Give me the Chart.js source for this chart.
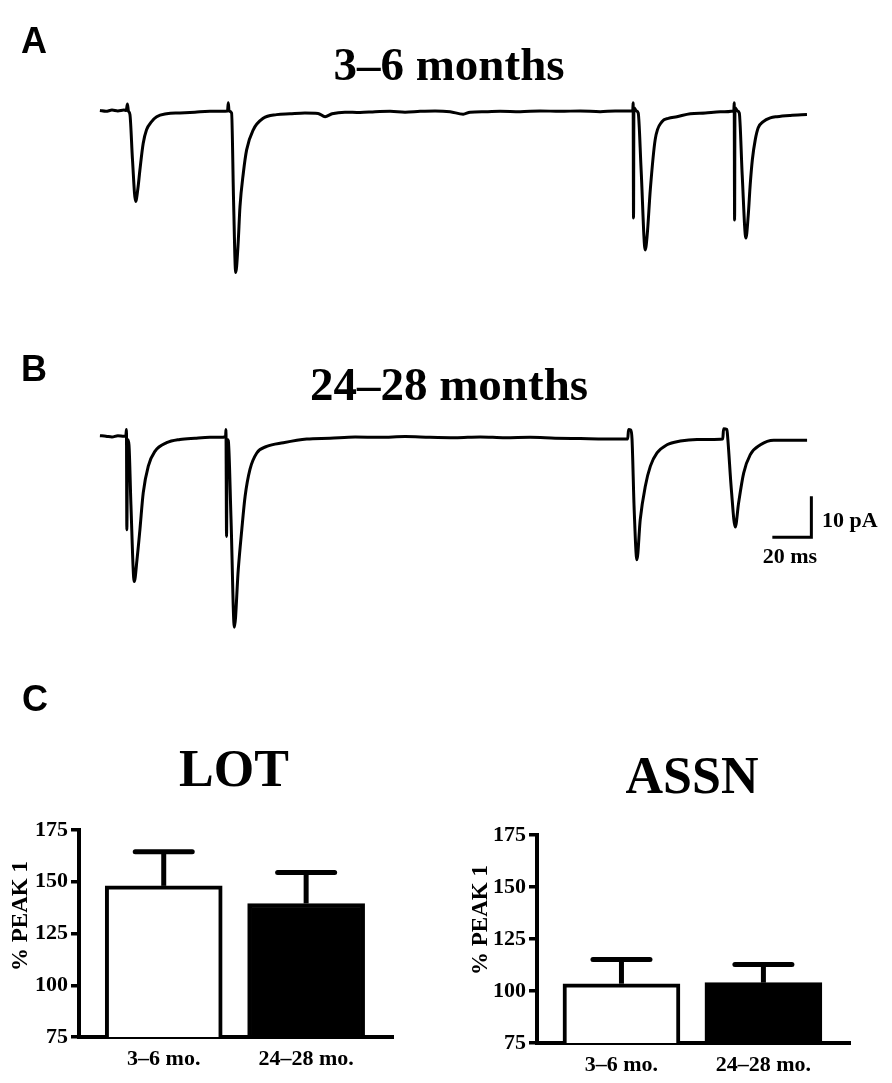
<!DOCTYPE html>
<html>
<head>
<meta charset="utf-8">
<script src="https://cdn.jsdelivr.net/npm/chart.js@4.4.1/dist/chart.umd.min.js"></script>
<style>
  html, body { margin: 0; padding: 0; background: #fff; }
  #page { position: relative; width: 892px; height: 1083px; overflow: hidden; background: #fff; }
  canvas { position: absolute; }
  #labels { position: absolute; left: 0; top: 0; }
  .panel { font-family: "Liberation Sans", Arial, sans-serif; font-weight: bold; font-size: 36px; }
  .serif { font-family: "Liberation Serif", "Times New Roman", serif; font-weight: bold; }
</style>
</head>
<body>
<div id="page">
  <canvas id="traceA" width="718" height="201" style="left:96px;top:90px"></canvas>
  <canvas id="traceB" width="722" height="226" style="left:96px;top:416px"></canvas>
  <canvas id="barLOT" width="420" height="273" style="left:0px;top:810px"></canvas>
  <canvas id="barASSN" width="420" height="268" style="left:460px;top:815px"></canvas>

  <svg id="labels" width="892" height="1083" xmlns="http://www.w3.org/2000/svg">
    <text class="panel" x="21" y="53">A</text>
    <text class="panel" x="21" y="381">B</text>
    <text class="panel" x="22" y="711">C</text>

    <text class="serif" font-size="47" x="449" y="80" text-anchor="middle">3–6 months</text>
    <text class="serif" font-size="47" x="449" y="400" text-anchor="middle">24–28 months</text>

    <text class="serif" font-size="22" x="822" y="527">10 pA</text>
    <text class="serif" font-size="22" x="790" y="563" text-anchor="middle">20 ms</text>

    <text class="serif" font-size="52" x="234" y="786" text-anchor="middle">LOT</text>
    <text class="serif" font-size="52" x="692" y="793" text-anchor="middle">ASSN</text>

    <text class="serif" font-size="23" text-anchor="middle" transform="translate(27,916) rotate(-90)">% PEAK 1</text>
    <text class="serif" font-size="23" text-anchor="middle" transform="translate(487,920) rotate(-90)">% PEAK 1</text>
  </svg>
</div>

<script>
// trace A, 3-6 months (time in ms, current in pA relative to baseline)
const traceA_t = [0, 3.1, 6.2, 9.2, 12.3, 13.5, 14.1, 14.6, 15.4, 16.7, 18.3, 19.5, 20.5, 22.2, 23.9, 26.5, 29.1, 34.2, 41.0, 48.7,
  56.4, 62.6, 65.4, 65.8, 66.2, 67.5, 68.5, 69.6, 70.8, 71.8, 73.5, 75.2, 78.6, 83.7, 90.6, 97.4, 105.1, 111.8, 115.4, 119.0,
  125.6, 133.3, 141.0, 148.7, 156.4, 164.1, 171.8, 179.5, 186.2, 189.7, 197.4, 205.1, 215.4, 225.6, 235.9, 246.2, 256.4, 264.1, 273.1, 273.3,
  273.5, 273.7, 274.9, 275.9, 277.4, 279.5, 280.5, 282.1, 284.6, 288.1, 291.3, 295.7, 302.6, 310.3, 318.0, 324.9, 325.1, 325.3, 325.5, 326.7,
  327.7, 329.2, 331.1, 332.3, 333.3, 334.4, 335.9, 337.4, 340.0, 343.6, 347.0, 353.8, 362.4];
const traceA_pA = [0, -0.2, 0.1, -0.1, 0.1, 0, 1.6, -0.1, -1.0, -12.0, -22.2, -18.9, -14.5, -8.0, -4.7, -2.7, -1.5, -0.8, -0.6, -0.4,
  -0.2, -0.2, -0.1, 1.9, -0.1, -0.6, -21.8, -39.5, -32.8, -23.4, -15.3, -9.6, -4.7, -1.9, -1.0, -0.8, -0.6, -0.7, -1.5, -0.8,
  -0.4, -0.5, -0.3, -0.2, -0.4, -0.2, -0.1, -0.3, -0.9, -0.4, -0.3, -0.2, -0.3, -0.1, -0.2, -0.1, -0.3, -0.1, -0.1, 1.9,
  -26.2, 0.7, -0.1, -0.6, -14.5, -34.0, -30.4, -19.3, -7.1, -2.7, -1.9, -1.5, -0.8, -0.6, -0.3, -0.1, 1.9, -26.7, 0.7, -0.1,
  -0.6, -15.7, -31.1, -25.5, -18.1, -12.0, -7.1, -4.2, -2.7, -1.8, -1.5, -1.2, -1.0];

// trace B, 24-28 months
const traceB_t = [0, 3.1, 6.2, 9.2, 12.3, 13.3, 13.6, 13.8, 14.2, 14.9, 15.9, 17.6, 19.0, 20.5, 22.2, 24.8, 28.2, 34.2, 41.0, 48.7,
  56.4, 61.5, 64.4, 64.6, 64.9, 65.2, 65.8, 67.2, 68.9, 70.9, 72.7, 74.4, 76.9, 80.4, 85.5, 94.0, 106.0, 117.9, 130.8, 143.6,
  156.4, 169.2, 182.1, 194.9, 207.7, 220.5, 233.3, 246.2, 259.0, 270.5, 270.9, 272.1, 272.7, 273.8, 275.2, 276.9, 279.5, 282.1, 285.5, 290.6,
  297.4, 306.0, 312.8, 319.2, 319.6, 321.3, 321.8, 323.6, 325.6, 327.3, 329.9, 333.3, 338.5, 345.3, 353.8, 362.4];
const traceB_pA = [0.2, 0.1, -0.1, 0.2, 0.1, 0.2, 1.7, -22.7, -0.7, -2.0, -16.6, -35.3, -30.0, -22.7, -13.7, -7.2, -3.6, -1.5, -0.7, -0.4,
  -0.2, -0.2, 0, 1.7, -24.3, -0.7, -1.0, -20.2, -46.4, -32.4, -22.7, -14.6, -8.0, -4.0, -2.4, -1.5, -0.6, -0.4, -0.1, -0.2,
  0, -0.2, -0.3, -0.1, -0.3, -0.2, -0.4, -0.5, -0.6, -0.6, 1.7, 1.6, -0.7, -17.8, -30.0, -20.2, -12.1, -7.2, -4.0, -2.0,
  -1.1, -0.7, -0.7, -0.6, 1.9, 1.7, -0.7, -12.9, -22.0, -16.2, -8.9, -4.4, -2.0, -0.9, -0.9, -0.9];

// scale bar: 20 ms by 10 pA
const scaleBar_t = [344.6, 364.6, 364.6];
const scaleBar_pA = [-24.5, -24.5, -14.5];

// panel C
const groups = ['3–6 mo.', '24–28 mo.'];
const lotMean = [148, 139.5];
const lotSem = [16.5, 15];
const assnMean = [103.5, 104];
const assnSem = [11.7, 8.7];
const barFill = ['#ffffff', '#000000'];

const serif = '"Liberation Serif", "Times New Roman", serif';

function pts(xs, ys) {
  return xs.map((x, i) => ({ x: x, y: ys[i] }));
}

function traceChart(id, datasets, xMax, yMin) {
  return new Chart(document.getElementById(id), {
    type: 'line',
    data: { datasets: datasets },
    options: {
      responsive: false,
      animation: false,
      events: [],
      layout: { padding: 0 },
      plugins: { legend: { display: false }, tooltip: { enabled: false } },
      scales: {
        x: { type: 'linear', display: false, min: -2, max: xMax },
        y: { display: false, min: yMin, max: 5 }
      }
    }
  });
}

function line(data, mono) {
  return {
    data: data,
    borderColor: '#000',
    borderWidth: 3,
    pointRadius: 0,
    fill: false,
    clip: false,
    borderJoinStyle: 'round',
    cubicInterpolationMode: mono ? 'monotone' : 'default',
    tension: 0
  };
}

traceChart('traceA', [line(pts(traceA_t, traceA_pA), true)], 366, -44);
traceChart('traceB', [
  line(pts(traceB_t, traceB_pA), true),
  Object.assign(line(pts(scaleBar_t, scaleBar_pA), false), { borderJoinStyle: 'miter', borderWidth: 3 })
], 368, -50);

// error bars drawn above each bar, mean -> mean + sem
function errorBars(means, sems) {
  return {
    id: 'errorBars',
    afterDatasetsDraw(chart) {
      const ctx = chart.ctx;
      const xs = chart.scales.x, ys = chart.scales.y;
      ctx.save();
      ctx.strokeStyle = '#000';
      ctx.lineWidth = 5;
      means.forEach((m, i) => {
        const x = xs.getPixelForValue(i + 1);
        const y0 = ys.getPixelForValue(m);
        const y1 = ys.getPixelForValue(m + sems[i]);
        ctx.lineCap = 'butt';
        ctx.beginPath();
        ctx.moveTo(x, y0);
        ctx.lineTo(x, y1);
        ctx.stroke();
        ctx.lineCap = 'round';
        ctx.beginPath();
        ctx.moveTo(x - 28.5, y1);
        ctx.lineTo(x + 28.5, y1);
        ctx.stroke();
      });
      ctx.restore();
    }
  };
}

function barChart(id, means, sems, axisW, axisH, padRight) {
  return new Chart(document.getElementById(id), {
    type: 'bar',
    data: {
      datasets: [{
        data: pts([1, 2], means),
        backgroundColor: barFill,
        borderColor: '#000',
        borderWidth: 4,
        borderSkipped: 'start',
        barThickness: 117
      }]
    },
    options: {
      responsive: false,
      animation: false,
      events: [],
      layout: { padding: { top: 20, right: padRight, left: 0, bottom: 0 } },
      plugins: { legend: { display: false }, tooltip: { enabled: false } },
      scales: {
        x: {
          type: 'linear',
          offset: false,
          min: 0.405,
          max: 2.61,
          afterBuildTicks: s => { s.ticks = [{ value: 1 }, { value: 2 }]; },
          afterFit: s => { s.height = axisH; },
          grid: { display: false, drawTicks: false },
          border: { display: true, color: '#000', width: 4 },
          ticks: {
            autoSkip: false,
            maxRotation: 0,
            padding: 9,
            color: '#000',
            font: { family: serif, weight: 'bold', size: 22 },
            callback: (v, i) => groups[i]
          }
        },
        y: {
          min: 75,
          max: 175,
          afterFit: s => { s.width = axisW; },
          grid: { drawOnChartArea: false, drawTicks: true, tickLength: 8, lineWidth: 3.5, color: '#000' },
          border: { display: true, color: '#000', width: 4 },
          ticks: {
            stepSize: 25,
            padding: 3,
            color: '#000',
            font: { family: serif, weight: 'bold', size: 22 }
          }
        }
      }
    },
    plugins: [errorBars(means, sems)]
  });
}

barChart('barLOT', lotMean, lotSem, 79, 46, 27);
barChart('barASSN', assnMean, assnSem, 77, 40, 30);
</script>
</body>
</html>
